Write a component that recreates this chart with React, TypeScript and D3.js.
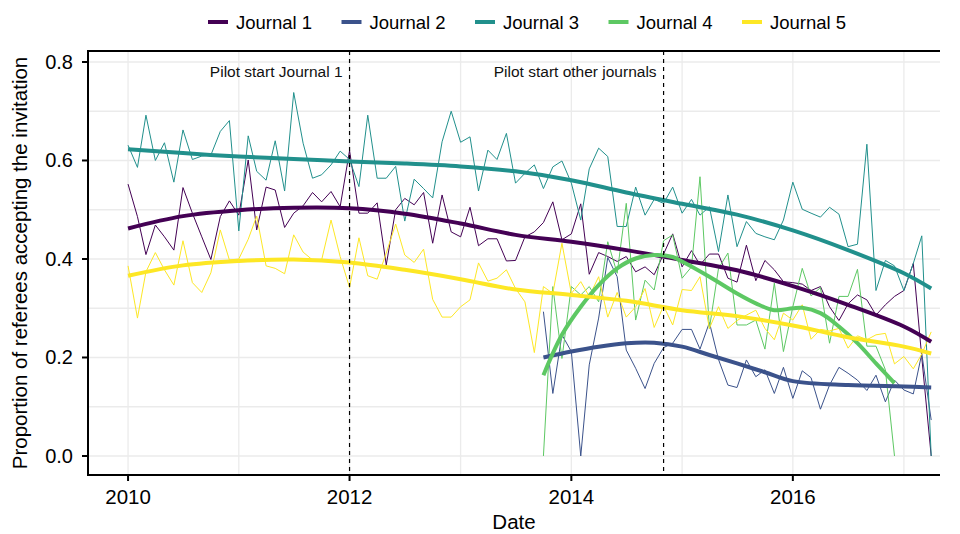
import * as d3 from 'd3';

// Journal labels and viridis colours
const journals = ['Journal 1', 'Journal 2', 'Journal 3', 'Journal 4', 'Journal 5'];
const colors = ['#440154', '#3B528B', '#21908C', '#5DC863', '#FDE725'];

// monthly observations, Jan 2010 .. Apr 2017 (Journals 2 and 4 start Oct 2013)
const j1 = [
  0.552, 0.486, 0.409, 0.469, 0.445, 0.418, 0.545, 0.493, 0.445, 0.399,
  0.486, 0.518, 0.489, 0.601, 0.459, 0.546, 0.540, 0.464, 0.493, 0.508,
  0.535, 0.516, 0.537, 0.506, 0.620, 0.493, 0.493, 0.514, 0.388, 0.500,
  0.523, 0.510, 0.535, 0.432, 0.530, 0.455, 0.445, 0.505, 0.427, 0.441,
  0.441, 0.396, 0.397, 0.445, 0.455, 0.474, 0.516, 0.439, 0.451, 0.512,
  0.369, 0.413, 0.405, 0.395, 0.405, 0.374, 0.384, 0.368, 0.410, 0.451,
  0.384, 0.417, 0.388, 0.410, 0.410, 0.361, 0.353, 0.428, 0.356, 0.397,
  0.378, 0.354, 0.352, 0.349, 0.336, 0.344, 0.303, 0.275, 0.309, 0.327,
  0.317, 0.286, 0.307, 0.324, 0.336, 0.391, 0.200, 0.0,
];
const j2 = [
  0.293, 0.127, 0.246, 0.212, 0.0,
  0.185, 0.280, 0.403, 0.364, 0.215, 0.178, 0.137, 0.188, 0.220, 0.229,
  0.257, 0.257, 0.217, 0.271, 0.196, 0.144, 0.139, 0.195, 0.161, 0.175,
  0.127, 0.180, 0.117, 0.173, 0.159, 0.095, 0.144, 0.180, 0.168, 0.154,
  0.133, 0.164, 0.110, 0.154, 0.134, 0.126, 0.208, 0.073,
];
const j3 = [
  0.631, 0.586, 0.692, 0.600, 0.636, 0.556, 0.662, 0.602, 0.609, 0.611,
  0.659, 0.681, 0.457, 0.650, 0.578, 0.560, 0.640, 0.538, 0.738, 0.635,
  0.564, 0.571, 0.591, 0.619, 0.602, 0.547, 0.692, 0.564, 0.564, 0.588,
  0.477, 0.562, 0.543, 0.524, 0.638, 0.700, 0.637, 0.648, 0.538, 0.621,
  0.602, 0.655, 0.554, 0.574, 0.591, 0.543, 0.587, 0.599, 0.554, 0.479,
  0.583, 0.625, 0.608, 0.466, 0.466, 0.546, 0.489, 0.521, 0.513, 0.546,
  0.493, 0.521, 0.489, 0.506, 0.415, 0.530, 0.425, 0.476, 0.452, 0.445,
  0.439, 0.479, 0.556, 0.501, 0.493, 0.485, 0.505, 0.491, 0.425, 0.430,
  0.633, 0.336, 0.397, 0.386, 0.336, 0.391, 0.447, 0.0,
];
const j4 = [
  0.0, 0.344, 0.198, 0.344, 0.327,
  0.344, 0.313, 0.435, 0.371, 0.513, 0.276, 0.357, 0.337, 0.437, 0.449,
  0.361, 0.384, 0.567, 0.259, 0.381, 0.412, 0.266, 0.266, 0.276, 0.217,
  0.351, 0.212, 0.303, 0.381, 0.325, 0.342, 0.229, 0.324, 0.324, 0.379,
  0.223, 0.223, 0.175, 0.0,
];
const j5 = [
  0.386, 0.280, 0.374, 0.413, 0.378, 0.347, 0.437, 0.352, 0.332, 0.372,
  0.459, 0.398, 0.400, 0.440, 0.487, 0.386, 0.381, 0.370, 0.449, 0.414,
  0.398, 0.398, 0.479, 0.405, 0.342, 0.443, 0.366, 0.359, 0.412, 0.471,
  0.408, 0.393, 0.420, 0.318, 0.282, 0.282, 0.303, 0.317, 0.392, 0.355,
  0.361, 0.378, 0.340, 0.313, 0.210, 0.344, 0.330, 0.432, 0.330, 0.354,
  0.324, 0.364, 0.282, 0.332, 0.282, 0.303, 0.340, 0.261, 0.305, 0.266,
  0.338, 0.336, 0.364, 0.259, 0.303, 0.259, 0.275, 0.286, 0.296, 0.259,
  0.236, 0.290, 0.276, 0.307, 0.237, 0.257, 0.254, 0.259, 0.219, 0.244,
  0.236, 0.246, 0.249, 0.187, 0.202, 0.177, 0.207, 0.252,
];
const seriesStart = [0, 45, 0, 45, 0]; // month offset of first observation
const rawSeries = [j1, j2, j3, j4, j5];

// smoothed trend, month index -> value
const smoothKnots = [0, 6, 12, 18, 24, 30, 36, 42, 48, 54, 60, 66, 72, 78, 84, 87];
const s1 = [0.462, 0.487, 0.499, 0.504, 0.503, 0.492, 0.472, 0.449, 0.435, 0.418, 0.398, 0.377, 0.345, 0.307, 0.263, 0.232];
const s3 = [0.623, 0.615, 0.608, 0.603, 0.598, 0.594, 0.588, 0.578, 0.560, 0.535, 0.512, 0.490, 0.458, 0.418, 0.371, 0.340];
const s5 = [0.366, 0.387, 0.396, 0.399, 0.393, 0.378, 0.359, 0.338, 0.327, 0.315, 0.296, 0.284, 0.265, 0.241, 0.222, 0.208];
const s2Knots = [45, 48, 51, 54, 57, 60, 63, 66, 69, 72, 78, 84, 87];
const s2 = [0.200, 0.212, 0.222, 0.229, 0.230, 0.222, 0.205, 0.188, 0.170, 0.152, 0.144, 0.141, 0.139];
const s4Knots = [45, 47, 49, 51, 53, 55, 57, 59, 60, 63, 66, 68, 70, 72, 73, 75, 77, 79, 81, 83];
const s4 = [0.164, 0.246, 0.303, 0.347, 0.381, 0.401, 0.408, 0.404, 0.395, 0.364, 0.330, 0.310, 0.296, 0.300, 0.301, 0.290, 0.263, 0.229, 0.188, 0.148];
const smoothSeries = [
  { knots: smoothKnots, values: s1 },
  { knots: s2Knots, values: s2 },
  { knots: smoothKnots, values: s3 },
  { knots: s4Knots, values: s4 },
  { knots: smoothKnots, values: s5 },
];

const yTicks = [0, 0.2, 0.4, 0.6, 0.8];
const yMinor = [0.1, 0.3, 0.5, 0.7];
const xTickYears = [2010, 2012, 2014, 2016];
const xMinorYears = [2011, 2013, 2015, 2017];
const pilots = [
  { date: new Date(2012, 0, 1), label: 'Pilot start Journal 1' },
  { date: new Date(2014, 10, 1), label: 'Pilot start other journals' },
];

const months = d3.timeMonth.range(new Date(2010, 0, 1), new Date(2017, 4, 1));

const W = 960;
const H = 534;
const panel = { left: 88, right: 940, top: 51, bottom: 475 };
const font = "'Liberation Sans', Arial, Helvetica, sans-serif";

export default function App() {
  const x = d3
    .scaleTime()
    .domain([new Date(2009, 7, 22), new Date(2017, 3, 30)])
    .range([panel.left, panel.right]);
  const y = d3.scaleLinear().domain([-0.0386, 0.8223]).range([panel.bottom, panel.top]);

  const thinLine = d3
    .line<[Date, number]>()
    .x((d) => x(d[0]))
    .y((d) => y(d[1]));
  const smoothLine = d3
    .line<[Date, number]>()
    .x((d) => x(d[0]))
    .y((d) => y(d[1]))
    .curve(d3.curveCatmullRom.alpha(0.5));

  const rawPts = rawSeries.map((vals, k) =>
    vals.map((v, i) => [months[seriesStart[k] + i], v] as [Date, number])
  );
  const smoothPts = smoothSeries.map((s) =>
    s.values.map((v, i) => [months[s.knots[i]], v] as [Date, number])
  );

  const legendX0 = 208;
  const legendStep = 133.5;

  return (
    <svg
      width={W}
      height={H}
      style={{ position: 'absolute', left: 0, top: 0, background: '#fff' }}
      fontFamily={font}
    >
      {/* grid */}
      <g stroke="#ebebeb" strokeWidth={1.3}>
        {[...yTicks, ...yMinor].map((t) => (
          <line key={'gy' + t} x1={panel.left} x2={panel.right} y1={y(t)} y2={y(t)} />
        ))}
        {[...xTickYears, ...xMinorYears].map((yr) => {
          const px = x(new Date(yr, 0, 1));
          return <line key={'gx' + yr} x1={px} x2={px} y1={panel.top} y2={panel.bottom} />;
        })}
      </g>

      {/* raw monthly lines */}
      {rawPts.map((pts, k) => (
        <path key={'r' + k} d={thinLine(pts) || ''} fill="none" stroke={colors[k]} strokeWidth={1} />
      ))}

      {/* smoothed trends */}
      {smoothPts.map((pts, k) => (
        <path
          key={'s' + k}
          d={smoothLine(pts) || ''}
          fill="none"
          stroke={colors[k]}
          strokeWidth={4}
          strokeLinecap="butt"
        />
      ))}

      {/* pilot markers */}
      {pilots.map((p) => {
        const px = x(p.date);
        return (
          <g key={p.label}>
            <line
              x1={px}
              x2={px}
              y1={panel.top}
              y2={panel.bottom}
              stroke="#000"
              strokeWidth={1.2}
              strokeDasharray="4,4"
            />
            <text x={px - 7} y={77} textAnchor="end" fontSize={15.5} fill="#111">
              {p.label}
            </text>
          </g>
        );
      })}

      {/* axis lines */}
      <g stroke="#000" strokeWidth={2}>
        <line x1={panel.left} x2={panel.right} y1={panel.top} y2={panel.top} />
        <line x1={panel.left} x2={panel.right} y1={panel.bottom} y2={panel.bottom} />
        <line x1={panel.left} x2={panel.left} y1={panel.top - 1} y2={panel.bottom + 1} />
      </g>

      {/* y axis */}
      {yTicks.map((t) => (
        <g key={'yt' + t}>
          <line x1={panel.left - 6} x2={panel.left} y1={y(t)} y2={y(t)} stroke="#000" strokeWidth={2} />
          <text x={73} y={y(t)} dy="0.35em" textAnchor="end" fontSize={20} fill="#000">
            {d3.format('.1f')(t)}
          </text>
        </g>
      ))}

      {/* x axis */}
      {xTickYears.map((yr) => {
        const px = x(new Date(yr, 0, 1));
        return (
          <g key={'xt' + yr}>
            <line x1={px} x2={px} y1={panel.bottom} y2={panel.bottom + 6} stroke="#000" strokeWidth={2} />
            <text x={px} y={504} textAnchor="middle" fontSize={20.5} fill="#000">
              {yr}
            </text>
          </g>
        );
      })}

      <text x={(panel.left + panel.right) / 2} y={529} textAnchor="middle" fontSize={20.5} fill="#000">
        Date
      </text>
      <text
        transform={`translate(27,${(panel.top + panel.bottom) / 2}) rotate(-90)`}
        textAnchor="middle"
        fontSize={20.5}
        fill="#000"
      >
        Proportion of referees accepting the invitation
      </text>

      {/* legend */}
      {journals.map((name, k) => {
        const lx = legendX0 + k * legendStep;
        return (
          <g key={name}>
            <line x1={lx} x2={lx + 20} y1={22} y2={22} stroke={colors[k]} strokeWidth={4} />
            <text x={lx + 28} y={29} fontSize={18.5} fill="#000">
              {name}
            </text>
          </g>
        );
      })}
    </svg>
  );
}
